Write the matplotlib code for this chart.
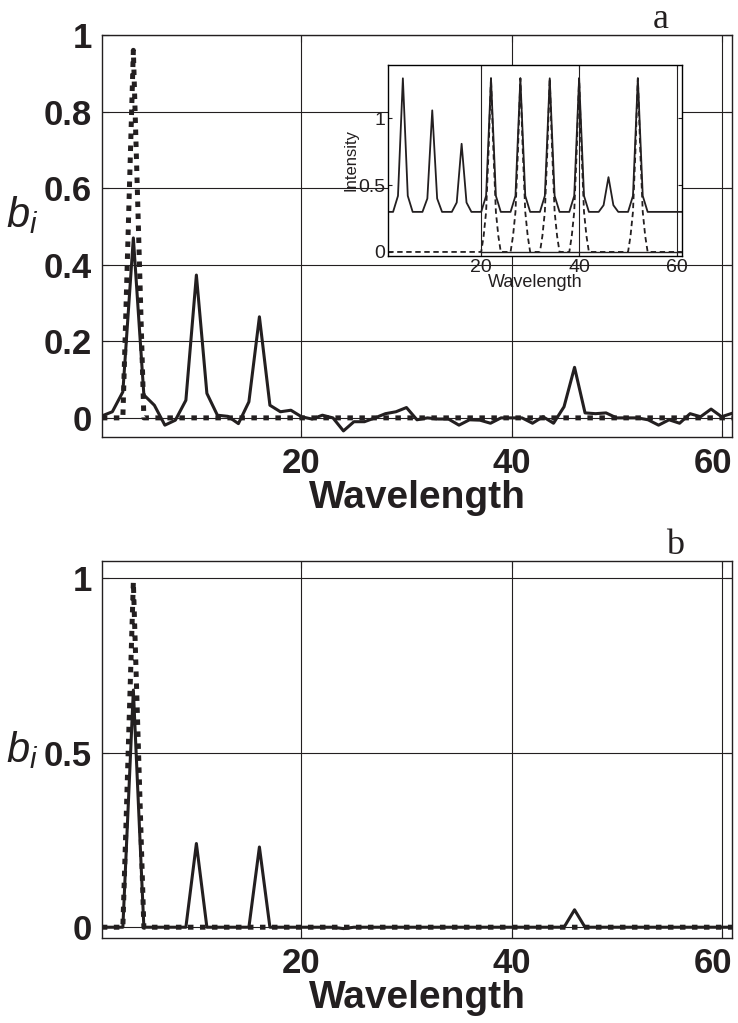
import matplotlib
matplotlib.use("Agg")
import matplotlib.pyplot as plt
import matplotlib.transforms as mtransforms

plt.rcParams["font.family"] = ["Liberation Sans", "DejaVu Sans"]
plt.rcParams["mathtext.fontset"] = "custom"
plt.rcParams["mathtext.it"] = "Liberation Sans:italic"
plt.rcParams["mathtext.rm"] = "Liberation Sans"

# wavelength index (1..61)
wl = list(range(1, 62))

# panel a: recovered coefficients (solid) and true coefficients (dotted)
bi_a = [0.005, 0.016, 0.068, 0.47, 0.06, 0.033, -0.019, -0.006, 0.046, 0.373,
        0.064, 0.007, 0.004, -0.015, 0.042, 0.264, 0.033, 0.016, 0.02, 0.003,
        -0.003, 0.007, 0.0, -0.034, -0.01, -0.01, 0.0, 0.011, 0.016, 0.027,
        -0.005, 0.0, -0.003, -0.003, -0.019, -0.005, -0.006, -0.014, 0.0, 0.0,
        0.0, -0.014, 0.003, -0.014, 0.029, 0.132, 0.013, 0.011, 0.013, 0.0,
        0.0, 0.0, -0.005, -0.019, -0.005, -0.014, 0.011, 0.003, 0.023, 0.003,
        0.012]
true_a = [0.0] * 61
true_a[3] = 0.96

# panel b
bi_b = [0.0] * 61
bi_b[3] = 0.68
bi_b[9] = 0.24
bi_b[15] = 0.23
bi_b[23] = -0.004
bi_b[45] = 0.05
true_b = [0.0] * 61
true_b[3] = 0.99

# inset: intensity spectra
inset_solid = [0.3, 0.3, 0.42, 1.3, 0.42, 0.3, 0.3, 0.3, 0.4, 1.06,
               0.4, 0.3, 0.3, 0.3, 0.37, 0.81, 0.37, 0.3, 0.3, 0.3,
               0.42, 1.3, 0.42, 0.3, 0.3, 0.3, 0.42, 1.3, 0.42, 0.3,
               0.3, 0.3, 0.42, 1.3, 0.42, 0.3, 0.3, 0.3, 0.42, 1.3,
               0.42, 0.3, 0.3, 0.3, 0.35, 0.56, 0.35, 0.3, 0.3, 0.3,
               0.42, 1.3, 0.42, 0.3, 0.3, 0.3, 0.3, 0.3, 0.3, 0.3, 0.3]
# dashed series sampled on half steps
inset_dx = [1, 20, 20.5, 21, 21.5, 22, 22.5, 23, 23.5, 24, 26, 26.5, 27, 27.5, 28,
            28.5, 29, 29.5, 30, 32, 32.5, 33, 33.5, 34, 34.5, 35, 35.5, 36,
            38, 38.5, 39, 39.5, 40, 40.5, 41, 41.5, 42, 50, 50.5, 51, 51.5,
            52, 52.5, 53, 53.5, 54, 61]
inset_dy = [0, 0, 0.12, 0.3, 0.75, 1.3, 0.75, 0.3, 0.12, 0, 0, 0.12, 0.3, 0.75, 1.3,
            0.75, 0.3, 0.12, 0, 0, 0.12, 0.3, 0.75, 1.3, 0.75, 0.3, 0.12, 0,
            0, 0.12, 0.3, 0.75, 1.3, 0.75, 0.3, 0.12, 0, 0, 0.12, 0.3, 0.75,
            1.3, 0.75, 0.3, 0.12, 0, 0]
inset_zero_x = [20, 61]
inset_zero_y = [0, 0]

ink = "#231f20"
dotted = (0, (1.1, 1.3))

fig = plt.figure(figsize=(7.38, 10.23), dpi=100)
nudge = mtransforms.ScaledTranslation(-6 / 72, 0, fig.dpi_scale_trans)


def style_main(ax, yticks, labels):
    ax.set_xlim(1, 61)
    ax.set_xticks([20, 40, 60])
    ax.set_yticks(yticks)
    ax.set_yticklabels(labels)
    ax.grid(True, color=ink, lw=0.8)
    ax.set_axisbelow(True)
    ax.tick_params(direction="in", length=5, top=True, right=True,
                   labelsize=25, pad=7, colors=ink)
    for lab in ax.get_xticklabels() + ax.get_yticklabels():
        lab.set_fontweight("bold")
    # keep the "60" inside the figure edge
    last = ax.get_xticklabels()[-1]
    last.set_transform(last.get_transform() + nudge)
    for s in ax.spines.values():
        s.set_linewidth(1.0)
        s.set_color(ink)
    ax.set_xlabel("Wavelength", fontsize=28, fontweight="bold", labelpad=0,
                  color=ink)


# panel a
ax1 = fig.add_axes([0.138, 0.5728, 0.854, 0.393])
ax1.plot(wl, bi_a, color=ink, lw=2.2)
ax1.plot(wl, true_a, color=ink, lw=3.6, ls=dotted)
ax1.set_ylim(-0.05, 1.0)
style_main(ax1, [0, 0.2, 0.4, 0.6, 0.8, 1], ["0", "0.2", "0.4", "0.6", "0.8", "1"])

# inset
axi = fig.add_axes([0.526, 0.7498, 0.398, 0.1867])
axi.set_facecolor("white")
axi.plot(wl, inset_solid, color=ink, lw=1.3)
axi.plot(inset_zero_x, inset_zero_y, color=ink, lw=1.0)
axi.plot(inset_dx, inset_dy, color=ink, lw=1.3, ls=(0, (3, 2)))
axi.set_xlim(1, 61)
axi.set_ylim(-0.03, 1.4)
axi.set_xticks([20, 40, 60])
axi.set_yticks([0, 0.5, 1])
axi.set_yticklabels(["0", "0.5", "1"])
axi.grid(True, axis="x", color=ink, lw=0.8)
axi.tick_params(direction="in", length=3, top=True, right=True,
                labelsize=14, pad=2, colors=ink)
axi.set_xlabel("Wavelength", fontsize=13, labelpad=-1, color=ink)
axi.set_ylabel("Intensity", fontsize=12, labelpad=0, color=ink)
for s in axi.spines.values():
    s.set_linewidth(1.0)

# panel b
ax2 = fig.add_axes([0.138, 0.0834, 0.854, 0.3682])
ax2.plot(wl, bi_b, color=ink, lw=2.2)
ax2.plot(wl, true_b, color=ink, lw=3.6, ls=dotted)
ax2.set_ylim(-0.03, 1.05)
style_main(ax2, [0, 0.5, 1], ["0", "0.5", "1"])

# y labels and panel letters
fig.text(0.03, 0.79, r"$b_i$", fontsize=30, color=ink, ha="center", va="center")
fig.text(0.03, 0.267, r"$b_i$", fontsize=30, color=ink, ha="center", va="center")
fig.text(0.895, 0.981, "a", family="Liberation Serif", fontsize=26,
         color=ink, ha="center", va="center")
fig.text(0.915, 0.467, "b", family="Liberation Serif", fontsize=26,
         color=ink, ha="center", va="center")

fig.savefig("out.png", dpi=100)
